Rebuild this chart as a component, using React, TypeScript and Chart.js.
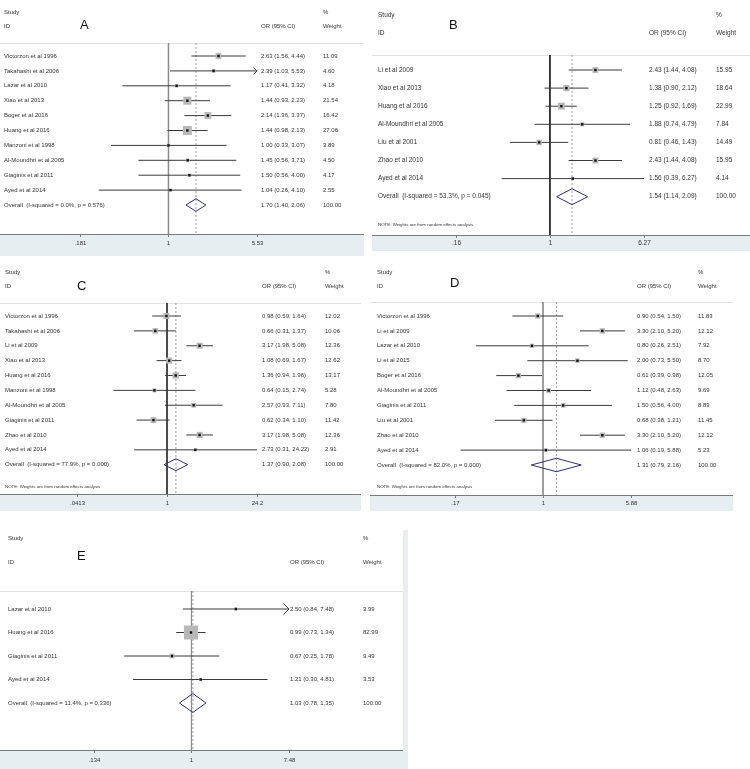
import React, { useEffect, useRef } from "react";
import { Chart, registerables } from "chart.js";

Chart.register(...registerables);

// ---------------- Panel A ----------------
const studiesA = ["Victorzon et al 1996", "Takahashi et al 2006", "Lazar et al 2010", "Xiao et al 2013", "Boger et al 2016", "Huang et al 2016", "Manzoni et al 1998", "Al-Moundhri et al 2005", "Giaginis et al 2011", "Ayed et al 2014"];
const orA = [2.63, 2.39, 1.17, 1.44, 2.14, 1.44, 1.0, 1.45, 1.5, 1.04];
const loA = [1.56, 1.03, 0.41, 0.93, 1.36, 0.98, 0.33, 0.56, 0.56, 0.26];
const hiA = [4.44, 5.53, 3.32, 2.23, 3.37, 2.13, 3.07, 3.71, 4.0, 4.1];
const weightA = [11.09, 4.6, 4.18, 21.54, 16.42, 27.06, 3.89, 4.5, 4.17, 2.55];
const arrowA = [false, true, false, false, false, false, false, false, false, false];
const overallA = [1.7, 1.4, 2.06];
const hetA = ["0.0", "0.576"];
const ticksA = [0.181, 1, 5.53];
const tickLabelsA = [".181", "1", "5.53"];

// ---------------- Panel B ----------------
const studiesB = ["Li et al 2009", "Xiao et al 2013", "Huang et al 2016", "Al-Moundhri et al 2005", "Liu et al 2001", "Zhao et al 2010", "Ayed et al 2014"];
const orB = [2.43, 1.38, 1.25, 1.88, 0.81, 2.43, 1.56];
const loB = [1.44, 0.9, 0.92, 0.74, 0.46, 1.44, 0.39];
const hiB = [4.08, 2.12, 1.69, 4.79, 1.43, 4.08, 6.27];
const weightB = [15.95, 18.64, 22.99, 7.84, 14.49, 15.95, 4.14];
const arrowB = [false, false, false, false, false, false, false];
const overallB = [1.54, 1.14, 2.09];
const hetB = ["53.3", "0.045"];
const ticksB = [0.16, 1, 6.27];
const tickLabelsB = [".16", "1", "6.27"];

// ---------------- Panel C ----------------
const studiesC = ["Victorzon et al 1996", "Takahashi et al 2006", "Li et al 2009", "Xiao et al 2013", "Huang et al 2016", "Manzoni et al 1998", "Al-Moundhri et al 2005", "Giaginis et al 2011", "Zhao et al 2010", "Ayed et al 2014"];
const orC = [0.98, 0.66, 3.17, 1.08, 1.36, 0.64, 2.57, 0.62, 3.17, 2.73];
const loC = [0.59, 0.31, 1.98, 0.69, 0.94, 0.15, 0.93, 0.34, 1.98, 0.31];
const hiC = [1.64, 1.37, 5.08, 1.67, 1.96, 2.74, 7.11, 1.1, 5.08, 24.22];
const weightC = [12.02, 10.06, 12.36, 12.62, 13.17, 5.28, 7.8, 11.42, 12.36, 2.91];
const arrowC = [false, false, false, false, false, false, false, false, false, false];
const overallC = [1.37, 0.9, 2.08];
const hetC = ["77.9", "0.000"];
const ticksC = [0.0413, 1, 24.2];
const tickLabelsC = [".0413", "1", "24.2"];

// ---------------- Panel D ----------------
const studiesD = ["Victorzon et al 1996", "Li et al 2009", "Lazar et al 2010", "Li et al 2015", "Boger et al 2016", "Al-Moundhri et al 2005", "Giaginis et al 2011", "Liu et al 2001", "Zhao et al 2010", "Ayed et al 2014"];
const orD = [0.9, 3.3, 0.8, 2.0, 0.61, 1.12, 1.5, 0.68, 3.3, 1.06];
const loD = [0.54, 2.1, 0.26, 0.73, 0.39, 0.48, 0.56, 0.38, 2.1, 0.19];
const hiD = [1.5, 5.2, 2.51, 5.5, 0.98, 2.63, 4.0, 1.21, 5.2, 5.88];
const weightD = [11.83, 12.12, 7.92, 8.7, 12.05, 9.69, 8.89, 11.45, 12.12, 5.23];
const arrowD = [false, false, false, false, false, false, false, false, false, false];
const overallD = [1.31, 0.79, 2.16];
const hetD = ["82.0", "0.000"];
const ticksD = [0.17, 1, 5.88];
const tickLabelsD = [".17", "1", "5.88"];

// ---------------- Panel E ----------------
const studiesE = ["Lazar et al 2010", "Huang et al 2016", "Giaginis et al 2011", "Ayed et al 2014"];
const orE = [2.5, 0.99, 0.67, 1.21];
const loE = [0.84, 0.73, 0.25, 0.3];
const hiE = [7.48, 1.34, 1.78, 4.81];
const weightE = [3.99, 82.99, 9.49, 3.53];
const arrowE = [true, false, false, false];
const overallE = [1.03, 0.78, 1.35];
const hetE = ["11.4", "0.336"];
const ticksE = [0.134, 1, 7.48];
const tickLabelsE = [".134", "1", "7.48"];

const NOTE_TEXT = "NOTE: Weights are from random effects analysis";
const BAND = "#e6eef1";
const FONT = '"Liberation Sans", Arial, sans-serif';

type Data = {
  studies: string[]; or: number[]; lo: number[]; hi: number[]; weight: number[];
  arrow: boolean[]; overall: number[]; het: string[]; ticks: number[]; tickLabels: string[];
};

const panels: { data: Data; L: any }[] = [
  {
    data: { studies: studiesA, or: orA, lo: loA, hi: hiA, weight: weightA, arrow: arrowA, overall: overallA, het: hetA, ticks: ticksA, tickLabels: tickLabelsA },
    L: { letter: "A", left: 0, top: 0, w: 364, h: 256, plotL: 80, plotR: 257, head: 43, axis: 234, row0: 56, step: 14.9, font: 6, letterX: 80, letterY: 25, studyY: 12, idY: 26, labelX: 4, orX: 261, wtX: 323, note: false, noteY: 0, vColor: "#8c8c8c", vWidth: 1.5, k: 1.73, dh: 0.42, arrow: 3.5, tickY: 243 },
  },
  {
    data: { studies: studiesB, or: orB, lo: loB, hi: hiB, weight: weightB, arrow: arrowB, overall: overallB, het: hetB, ticks: ticksB, tickLabels: tickLabelsB },
    L: { letter: "B", left: 372, top: 0, w: 378, h: 251, plotL: 84, plotR: 272, head: 55, axis: 235, row0: 70, step: 18.1, font: 6.5, letterX: 77, letterY: 25, studyY: 15, idY: 33, labelX: 6, orX: 277, wtX: 344, note: true, noteY: 225, vColor: "#222222", vWidth: 1, k: 1.46, dh: 0.44, arrow: 4, tickY: 243 },
  },
  {
    data: { studies: studiesC, or: orC, lo: loC, hi: hiC, weight: weightC, arrow: arrowC, overall: overallC, het: hetC, ticks: ticksC, tickLabels: tickLabelsC },
    L: { letter: "C", left: 0, top: 260, w: 361, h: 251, plotL: 77, plotR: 257, head: 43, axis: 234, row0: 56, step: 14.87, font: 6, letterX: 77, letterY: 26, studyY: 12, idY: 26, labelX: 5, orX: 262, wtX: 325, note: true, noteY: 227, vColor: "#333333", vWidth: 1, k: 1.74, dh: 0.4, arrow: 3.5, tickY: 243 },
  },
  {
    data: { studies: studiesD, or: orD, lo: loD, hi: hiD, weight: weightD, arrow: arrowD, overall: overallD, het: hetD, ticks: ticksD, tickLabels: tickLabelsD },
    L: { letter: "D", left: 370, top: 260, w: 363, h: 251, plotL: 85, plotR: 261, head: 42, axis: 235, row0: 56, step: 14.9, font: 6, letterX: 80, letterY: 23, studyY: 12, idY: 26, labelX: 7, orX: 267, wtX: 328, note: true, noteY: 227, vColor: "#808080", vWidth: 1.5, k: 1.53, dh: 0.45, arrow: 3.5, tickY: 243 },
  },
  {
    data: { studies: studiesE, or: orE, lo: loE, hi: hiE, weight: weightE, arrow: arrowE, overall: overallE, het: hetE, ticks: ticksE, tickLabels: tickLabelsE },
    L: { letter: "E", left: 0, top: 530, w: 403, h: 239, plotL: 94, plotR: 289, head: 61, axis: 220, row0: 79, step: 23.5, font: 6, letterX: 77, letterY: 26, studyY: 8, idY: 32, labelX: 8, orX: 290, wtX: 363, note: false, noteY: 0, vColor: "#8c8c8c", vWidth: 1.2, k: 1.54, dh: 0.4, arrow: 5.5, tickY: 230 },
  },
];

function fmt(v: number) {
  return v.toFixed(2);
}

function buildConfig(d: Data, L: any): any {
  const n = d.studies.length;
  const yMin = -(L.row0 - L.head) / L.step;
  const yMax = yMin + (L.axis - L.head) / L.step;
  const ci: any[] = [];
  d.studies.forEach((_, i) => {
    ci.push({ x: d.lo[i], y: i }, { x: d.hi[i], y: i }, { x: d.hi[i], y: NaN });
  });
  const pts = d.or.map((v, i) => ({ x: v, y: i }));
  const [ov, ovLo, ovHi] = d.overall;
  const diamond = [
    { x: ovLo, y: n },
    { x: ov, y: n - L.dh },
    { x: ovHi, y: n },
    { x: ov, y: n + L.dh },
    { x: ovLo, y: n },
  ];

  const plugin = {
    id: "forestText",
    beforeDraw(chart: any) {
      const ctx = chart.ctx;
      ctx.save();
      ctx.fillStyle = "#ffffff";
      ctx.fillRect(0, 0, L.w, L.h);
      ctx.fillStyle = BAND;
      ctx.fillRect(0, L.axis, L.w, L.h - L.axis);
      ctx.strokeStyle = "#e2e2e2";
      ctx.lineWidth = 1;
      ctx.beginPath();
      ctx.moveTo(0, L.head + 0.5);
      ctx.lineTo(L.w, L.head + 0.5);
      ctx.stroke();
      ctx.restore();
    },
    afterDraw(chart: any) {
      const ctx = chart.ctx;
      const xs = chart.scales.x;
      const ys = chart.scales.y;
      ctx.save();
      // axis line
      ctx.strokeStyle = "#7a7a7a";
      ctx.lineWidth = 1;
      ctx.beginPath();
      ctx.moveTo(0, L.axis + 0.5);
      ctx.lineTo(L.w, L.axis + 0.5);
      ctx.stroke();
      // ticks
      ctx.fillStyle = "#333";
      ctx.font = `${L.font}px ${FONT}`;
      ctx.textAlign = "center";
      ctx.textBaseline = "middle";
      d.ticks.forEach((t, i) => {
        const px = Math.round(xs.getPixelForValue(t)) + 0.5;
        ctx.beginPath();
        ctx.moveTo(px, L.axis);
        ctx.lineTo(px, L.axis + 3);
        ctx.stroke();
        ctx.fillText(d.tickLabels[i], px, L.tickY);
      });
      // headers
      ctx.textAlign = "left";
      ctx.fillText("Study", L.labelX, L.studyY);
      ctx.fillText("ID", L.labelX, L.idY);
      ctx.fillText("OR (95% CI)", L.orX, L.idY);
      ctx.fillText("%", L.wtX, L.studyY);
      ctx.fillText("Weight", L.wtX, L.idY);
      // rows
      d.studies.forEach((s, i) => {
        const y = ys.getPixelForValue(i);
        ctx.fillText(s, L.labelX, y);
        ctx.fillText(`${fmt(d.or[i])} (${fmt(d.lo[i])}, ${fmt(d.hi[i])})`, L.orX, y);
        ctx.fillText(fmt(d.weight[i]), L.wtX, y);
      });
      const yo = ys.getPixelForValue(n);
      ctx.fillText(`Overall  (I-squared = ${d.het[0]}%, p = ${d.het[1]})`, L.labelX, yo);
      ctx.fillText(`${fmt(ov)} (${fmt(ovLo)}, ${fmt(ovHi)})`, L.orX, yo);
      ctx.fillText("100.00", L.wtX, yo);
      if (L.note) {
        ctx.font = `4.4px ${FONT}`;
        ctx.fillText(NOTE_TEXT, L.labelX, L.noteY);
      }
      // letter
      ctx.font = `13px ${FONT}`;
      ctx.fillStyle = "#111";
      ctx.fillText(L.letter, L.letterX, L.letterY);
      // arrows for truncated CIs
      ctx.strokeStyle = "#333";
      ctx.lineWidth = 1;
      d.arrow.forEach((a, i) => {
        if (!a) return;
        const x = xs.getPixelForValue(d.hi[i]);
        const y = ys.getPixelForValue(i);
        ctx.beginPath();
        ctx.moveTo(x - L.arrow, y - L.arrow);
        ctx.lineTo(x, y);
        ctx.lineTo(x - L.arrow, y + L.arrow);
        ctx.stroke();
      });
      ctx.restore();
    },
  };

  return {
    type: "scatter",
    data: {
      datasets: [
        { data: [{ x: 1, y: yMin }, { x: 1, y: yMax }], showLine: true, borderColor: L.vColor, borderWidth: L.vWidth, pointRadius: 0, order: 10 },
        { data: [{ x: ov, y: yMin }, { x: ov, y: yMax }], showLine: true, borderColor: "#9c9c9c", borderDash: [2, 2], borderWidth: 1, pointRadius: 0, order: 9 },
        { data: ci, showLine: true, spanGaps: false, borderColor: "#3a3a3a", borderWidth: 1, pointRadius: 0, order: 8 },
        { data: pts, pointStyle: "rect", pointRadius: d.weight.map((w) => (L.k * Math.sqrt(w)) / Math.SQRT2), backgroundColor: "#b8b8b8", borderWidth: 0, order: 7 },
        { data: pts, pointStyle: "rect", pointRadius: 1.7, backgroundColor: "#111", borderWidth: 0, order: 6 },
        { data: diamond, showLine: true, borderColor: "#2c3170", borderWidth: 1, pointRadius: 0, order: 5 },
      ],
    },
    options: {
      responsive: false,
      maintainAspectRatio: false,
      animation: false,
      devicePixelRatio: 1,
      events: [],
      layout: { padding: { left: L.plotL, right: L.w - L.plotR, top: L.head, bottom: L.h - L.axis } },
      plugins: { legend: { display: false }, tooltip: { enabled: false } },
      scales: {
        x: { type: "logarithmic", min: d.ticks[0], max: d.ticks[2], bounds: "data", display: false },
        y: { type: "linear", min: yMin, max: yMax, reverse: true, bounds: "data", display: false },
      },
    },
    plugins: [plugin],
  };
}

function ForestPanel({ data, L }: { data: Data; L: any }) {
  const ref = useRef<HTMLCanvasElement>(null);
  useEffect(() => {
    const chart = new Chart(ref.current as HTMLCanvasElement, buildConfig(data, L));
    return () => chart.destroy();
  }, []);
  return (
    <canvas
      ref={ref}
      width={L.w}
      height={L.h}
      style={{ position: "absolute", left: L.left, top: L.top, width: L.w, height: L.h }}
    />
  );
}

export default function App() {
  return (
    <div style={{ position: "absolute", left: 0, top: 0, width: 750, height: 769, background: "#fff", overflow: "hidden" }}>
      {panels.map((p, i) => (
        <ForestPanel key={i} data={p.data} L={p.L} />
      ))}
      <div style={{ position: "absolute", left: 403, top: 530, width: 5, height: 239, background: BAND }} />
    </div>
  );
}
